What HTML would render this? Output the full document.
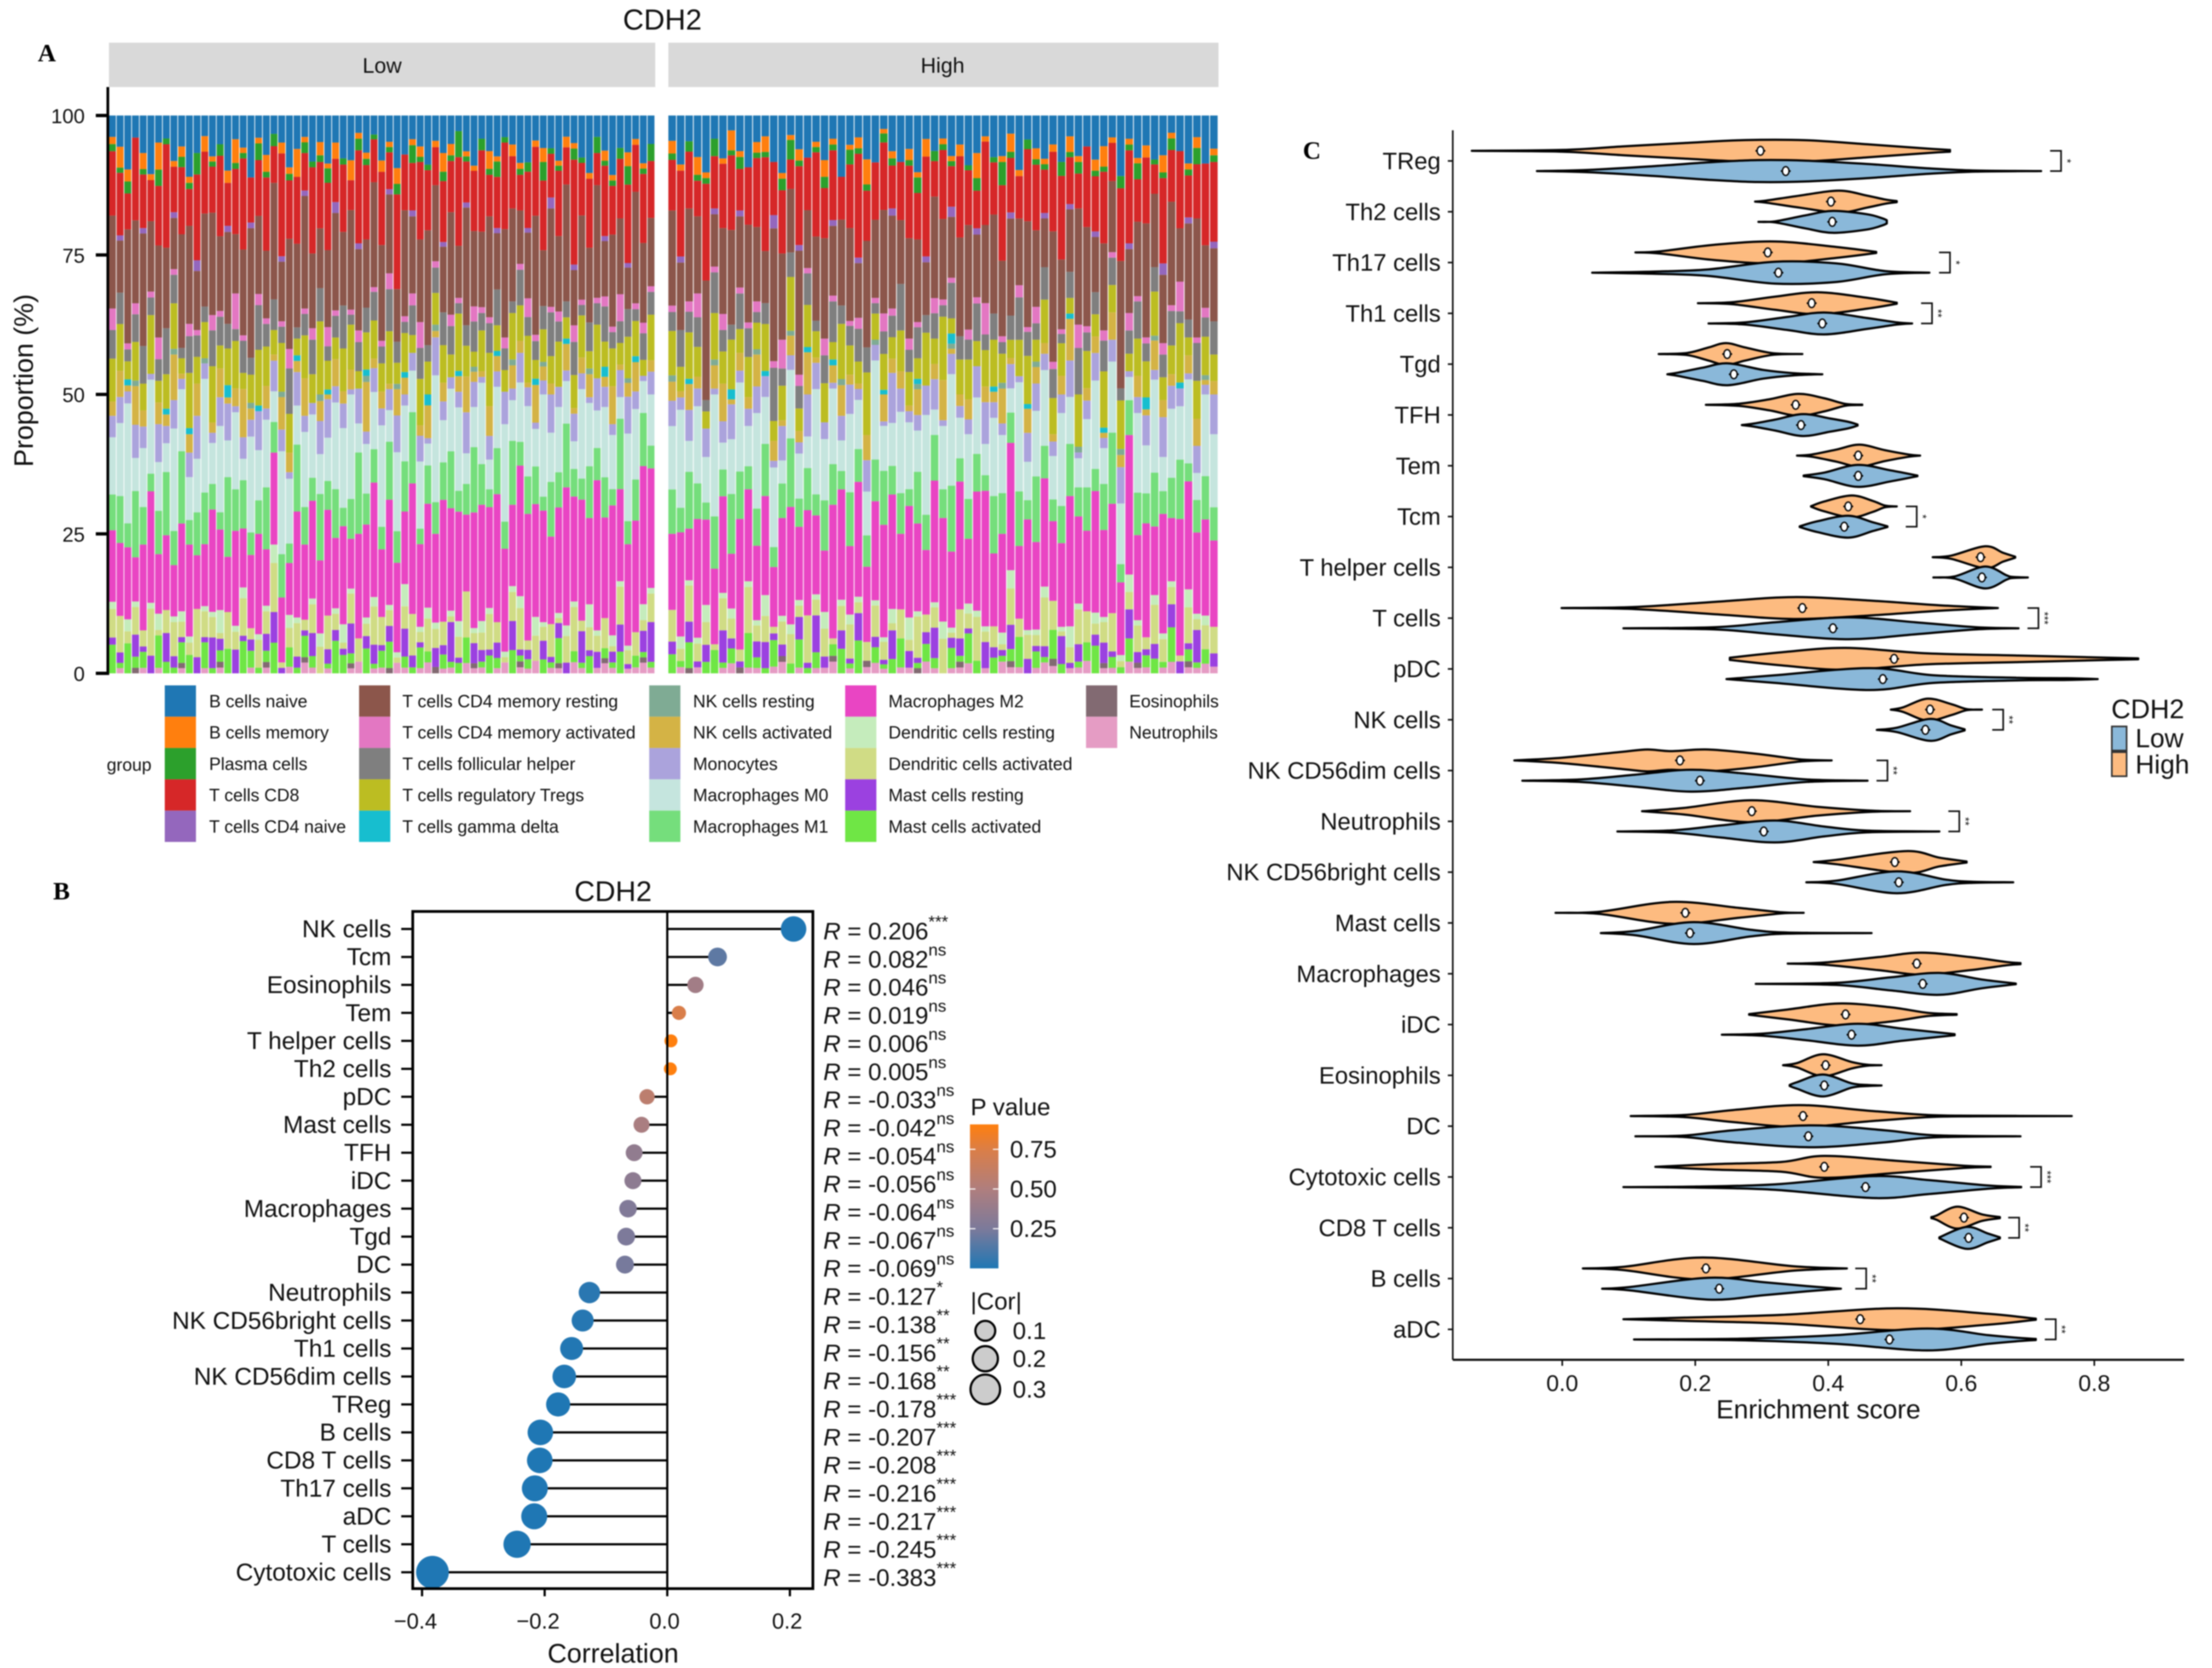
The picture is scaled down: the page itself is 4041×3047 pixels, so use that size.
<!DOCTYPE html>
<html lang="en">
<head>
<meta charset="utf-8">
<title>CDH2 immune infiltration figure</title>
<style>
html,body{margin:0;padding:0;background:#fff;}
svg{display:block;filter:blur(1px);}
text{font-family:"Liberation Sans",Arial,sans-serif;fill:#111;}
.serif{font-family:"Liberation Serif",serif;font-weight:bold;fill:#000;}
</style>
</head>
<body>
<svg id="fig" xmlns="http://www.w3.org/2000/svg" width="4041" height="3047" viewBox="0 0 4041 3047">
<rect x="0" y="0" width="4041" height="3047" fill="#fff"/>
<text class="serif" x="69" y="112" font-size="46">A</text>
<text class="serif" x="97" y="1643" font-size="46">B</text>
<text class="serif" x="2380" y="290" font-size="46">C</text>
<text x="1210" y="54" font-size="53" text-anchor="middle">CDH2</text>
<rect x="199" y="78" width="998" height="81" fill="#d9d9d9"/>
<rect x="1221" y="78" width="1015" height="81" fill="#d9d9d9" style="width:1005px"/>
<text x="698" y="133" font-size="39" text-anchor="middle">Low</text>
<text x="1722" y="133" font-size="39" text-anchor="middle">High</text>
<text transform="translate(60,695) rotate(-90)" font-size="49" text-anchor="middle">Proportion (%)</text>
<text x="195" y="1408" font-size="32">group</text>
<text x="1120" y="1646" font-size="52" text-anchor="middle">CDH2</text>
<text x="1120" y="3037" font-size="49" text-anchor="middle">Correlation</text>
<text x="1773" y="2037" font-size="44">P value</text>
<text x="1773" y="2392" font-size="44">|Cor|</text>
<text x="3322" y="2591" font-size="48" text-anchor="middle">Enrichment score</text>
<text x="3857" y="1312" font-size="49">CDH2</text>
</svg>
<script>
// ---------- Panel A data: one array per cell type; first 71 values = Low samples, remainder = High samples ----------
const cellNames=["B cells naive","B cells memory","Plasma cells","T cells CD8","T cells CD4 naive","T cells CD4 memory resting","T cells CD4 memory activated","T cells follicular helper","T cells regulatory Tregs","T cells gamma delta","NK cells resting","NK cells activated","Monocytes","Macrophages M0","Macrophages M1","Macrophages M2","Dendritic cells resting","Dendritic cells activated","Mast cells resting","Mast cells activated","Eosinophils","Neutrophils"];
const cellColors=["#1f77b4","#ff7f0e","#2ca02c","#d62728","#9467bd","#8c564b","#e377c2","#7f7f7f","#bcbd22","#17becf","#7fab94","#d4b345","#aba3dc","#c5e5de","#75de7c","#e945c3","#c5ecbc","#d0dc85","#9b41e0","#6fe645","#826a72","#e59cc4"];
const lowSampleCount=71;
const bNaive=[3,6,9,4,7,10,5,4,8,6,10,7,4,8,5,9,4,6,11,4,7,3,5,8,6,4,8,4,10,5,7,9,3,6,4,8,5,10,7,4,6,9,4,8,5,3,7,10,4,6,8,4,5,8,10,4,7,6,9,4,5,8,10,4,7,11,6,8,4,9,5,
4,8,5,7,10,4,8,3,6,9,5,4,7,10,4,6,8,5,8,4,10,6,4,7,9,3,5,8,6,11,4,7,4,8,5,10,6,4,8,7,3,9,5,6,8,4,10,4,7,5,8,6,4,10,4,8,5,9,7,3,6,8,4,10,5,7,4,8,9,6,4,8];
const bMemory=[1,4,2,0,3,1,5,0,1,2,1,0,3,1,0,2,4,1,0,1,3,0,2,1,5,1,0,2,1,3,0,4,1,1,0,2,1,3,0,1,2,0,1,4,2,0,1,1,0,3,1,0,2,1,0,1,3,0,1,2,1,0,1,0,2,1,0,3,1,1,0,
2,1,0,3,1,0,1,4,1,0,2,3,0,1,1,2,0,1,3,1,0,1,2,4,0,1,1,0,2,1,3,0,1,1,2,0,4,1,0,1,3,1,0,2,1,1,0,3,1,0,2,4,1,0,1,1,2,0,3,1,0,1,2,0,1,3,1];
const plasmaCells=[1,1,2,0,1,0,3,1,0,2,1,4,0,1,2,0,1,1,0,3,1,2,0,1,0,2,1,1,3,0,1,0,2,1,1,0,1,2,0,3,1,1,0,2,1,5,1,0,2,1,3,1,0,1,2,0,4,1,1,0,2,1,0,3,1,1,2,4,0,1,3,
1,0,2,1,1,3,0,1,2,0,1,1,0,2,4,1,0,1,2,1,0,3,1,1,0,2,1,0,1,3,0,2,1,1,0,1,2,0,1,4,1,0,2,1,1,0,3,1,2,0,1,1,0,2,1,3,0,1,1,2,0,1,3,0,1,2,1];
const cd8Cells=[9,12,6,15,10,7,11,18,8,13,6,16,12,9,14,7,11,17,8,10,13,6,19,9,12,7,15,10,14,8,11,6,16,12,9,13,7,18,10,8,15,11,6,13,9,17,8,12,14,7,10,16,9,6,12,11,15,8,13,7,19,10,12,6,14,9,11,17,8,13,10,
8,14,11,6,17,9,12,15,7,10,13,18,8,11,6,14,10,16,9,12,7,13,19,8,11,15,6,10,13,9,17,7,12,8,14,11,6,16,10,13,9,7,15,12,8,11,18,9,6,13,10,14,7,12,16,8,11,6,15,9,13,7,10,17,12,8,14];
const cd4Naive=[0,1,0,0,1,0,0,0,1,0,0,2,0,0,0,1,0,0,1,0,0,0,1,0,0,1,0,0,0,2,0,0,1,0,0,0,1,0,0,1,0,0,0,1,0,0,1,0,0,0,1,0,0,0,1,0,0,2,0,0,1,0,0,0,1,0,0,1,0,0,0,
0,1,0,0,0,1,0,0,1,0,0,0,2,0,0,1,0,0,0,1,0,0,1,0,0,0,1,0,0,0,1,0,0,2,0,0,1,0,0,0,1,0,0,0,1,0,0,1,0,0,1,0,0,0,1,0,0,0,2,0,0,1,0,0,1,0,0];
const memResting=[13,10,19,15,21,12,17,14,9,22,16,11,18,20,13,15,10,16,23,14,12,19,11,17,15,21,13,9,16,18,12,20,14,11,22,17,15,10,19,13,16,21,12,14,18,10,23,15,13,17,11,20,16,9,14,19,12,18,15,22,10,16,13,21,11,17,14,9,19,15,12,
15,11,18,13,21,9,16,19,12,17,14,10,20,15,13,22,11,16,18,12,14,19,10,17,15,23,13,11,18,16,9,20,14,12,17,21,10,15,19,13,16,11,22,14,9,18,15,12,20,16,10,17,13,21,11,14,19,15,12,18,9,16,22,13,11,17,14];
const memActivated=[3,0,1,2,0,1,4,0,1,0,2,1,0,3,1,0,6,1,0,2,1,0,1,3,0,1,2,0,4,1,0,1,2,0,1,1,3,0,1,2,5,0,1,0,2,1,0,3,1,1,0,2,0,1,4,1,0,1,2,0,3,1,0,1,2,1,5,0,1,2,1,
1,0,2,4,0,1,3,0,1,1,2,0,1,5,0,2,1,0,3,1,0,1,2,0,1,4,1,0,2,1,0,3,1,1,0,2,1,6,0,1,0,2,1,3,0,1,1,0,4,1,0,2,1,0,3,1,1,0,2,1,5,0,1,2,0,1,3];
const tfhCells=[4,6,2,5,7,3,4,8,5,2,6,4,3,7,5,4,2,6,3,8,4,5,3,7,2,4,6,5,3,4,7,2,5,4,6,3,8,4,2,5,6,3,4,7,5,2,4,6,3,5,7,4,2,6,4,3,5,8,4,3,6,2,5,4,7,3,4,6,2,5,4,
3,6,4,5,2,7,4,3,6,5,2,4,8,3,5,4,6,2,5,7,3,4,6,4,2,5,3,8,4,6,3,5,2,7,4,4,6,3,5,2,4,7,5,3,6,4,2,5,8,3,4,6,5,2,4,7,3,5,4,6,2,3,7,4,5,3,6];
const tregCells=[6,9,3,7,5,10,4,6,8,3,9,5,7,11,4,6,8,3,5,10,7,4,9,6,3,8,5,11,6,4,7,9,3,6,8,5,10,4,7,3,9,6,5,8,4,11,6,3,7,9,5,4,8,6,10,3,7,5,9,4,6,8,3,10,5,7,4,9,6,3,8,
7,4,9,5,3,8,6,10,4,7,5,9,3,6,11,4,8,5,7,3,9,6,4,10,5,8,3,7,6,4,9,5,11,3,6,8,4,7,9,5,3,6,10,4,8,5,7,3,9,6,4,11,5,8,3,7,6,9,4,5,10,3,7,8,4];
const gammaDelta=[0,0,1,0,0,0,0,1,0,0,1,0,0,0,0,2,0,0,0,1,0,0,0,0,1,0,0,0,1,0,0,0,0,1,0,0,0,0,1,0,0,2,0,0,0,1,0,0,0,0,1,0,0,0,0,1,0,0,0,1,0,0,0,0,2,0,0,0,1,0,0,
0,0,1,0,0,0,0,2,0,0,0,1,0,0,0,0,1,0,0,1,0,0,0,0,0,1,0,0,0,1,0,0,0,2,0,0,0,0,1,0,0,0,1,0,0,0,0,1,0,0,0,1,0,0,0,0,2,0,0,0,1,0,0,0,0,1,0];
const nkResting=[0,0,0,1,0,0,0,0,1,0,0,0,1,0,0,0,0,0,1,0,0,0,1,0,0,0,0,1,0,0,0,0,0,1,0,0,0,1,0,0,0,0,1,0,0,0,0,1,0,0,0,0,1,0,0,0,1,0,0,0,0,0,1,0,0,0,0,1,0,0,0,
1,0,0,0,0,1,0,0,0,0,1,0,0,0,1,0,0,0,0,0,1,0,0,0,1,0,0,0,0,1,0,0,0,1,0,0,0,0,0,1,0,0,0,1,0,0,0,0,1,0,0,0,0,1,0,0,0,1,0,0,0,0,0,1,0,0,0];
const nkActivated=[2,5,1,7,3,0,4,2,8,1,3,6,0,2,5,1,3,9,2,0,4,1,6,3,2,7,0,3,1,5,2,4,0,8,2,3,1,5,3,0,2,6,1,4,0,3,7,2,1,5,3,0,4,2,1,6,3,2,0,5,1,3,4,0,2,7,1,3,5,0,2,
3,1,5,2,0,4,7,1,3,2,6,0,3,1,4,2,8,1,0,3,5,2,1,4,0,6,2,3,1,5,0,3,7,1,2,4,0,3,2,6,1,0,5,3,2,1,4,8,0,2,3,1,5,2,0,4,1,6,3,2,0,3,5,1,2,4,0];
const monocytes=[3,5,2,6,4,1,7,3,5,2,4,8,3,2,5,6,1,4,3,7,2,5,4,1,6,3,2,5,8,3,4,1,6,2,5,3,4,7,2,3,5,1,6,4,2,3,8,5,1,4,3,6,2,5,4,1,3,7,4,2,5,3,1,6,4,2,5,8,3,1,4,
4,2,6,3,5,1,4,7,2,3,5,4,1,6,3,2,8,5,3,1,4,6,2,5,3,1,7,4,2,3,5,6,1,4,2,3,5,8,3,2,4,1,6,5,3,2,4,7,1,3,5,2,4,6,1,3,5,2,7,4,3,1,5,2,6,4,3];
const m0Cells=[8,14,20,6,11,16,9,5,18,12,7,10,22,8,15,6,13,4,17,9,12,5,19,10,7,14,11,6,9,16,13,21,5,8,12,18,6,15,10,7,13,4,20,9,11,16,6,8,14,5,12,18,7,10,15,6,22,9,13,8,5,17,11,7,14,10,4,19,12,6,9,
10,16,6,13,8,21,5,11,15,7,18,9,12,4,14,8,6,20,11,13,5,16,9,7,19,10,6,14,12,8,17,5,11,22,7,13,9,6,15,10,4,18,8,12,14,6,20,9,5,11,16,7,13,10,4,15,8,19,6,12,9,14,5,17,11,7,13];
const m1Cells=[5,9,4,12,7,3,8,11,6,14,4,8,10,5,3,13,7,9,4,6,11,5,8,3,12,7,4,10,6,9,3,8,14,5,7,4,11,6,9,12,3,7,5,8,10,4,6,13,7,3,9,5,11,4,8,6,3,10,7,12,5,4,9,6,8,3,13,5,7,10,4,
7,4,11,6,3,9,5,12,8,4,7,10,3,6,14,5,8,4,9,7,3,11,6,5,8,12,4,7,3,10,6,9,5,13,4,8,6,3,11,7,5,9,4,12,6,3,8,10,5,7,4,9,13,3,6,8,5,11,4,7,10,3,6,9,5,12,4];
const m2Cells=[10,14,12,8,16,19,11,13,9,17,15,10,12,20,14,9,16,11,13,18,10,15,12,8,19,14,17,11,22,13,16,10,18,15,24,12,20,17,13,22,16,19,14,26,18,21,15,23,20,17,25,19,14,22,27,18,24,16,21,26,19,23,15,28,20,24,17,22,19,26,21,
12,17,10,20,15,13,18,11,22,16,14,19,9,17,24,13,20,15,11,23,18,14,21,12,19,25,16,13,20,17,11,24,18,15,22,13,19,26,14,17,21,12,23,16,20,11,18,25,15,13,22,17,20,12,24,16,19,14,21,11,23,18,15,20,13,22,17];
const dcResting=[1,0,2,1,0,1,3,0,1,2,1,0,1,1,4,0,1,2,0,1,1,3,0,2,1,0,1,2,0,1,3,1,0,1,2,0,1,1,4,0,1,2,1,0,1,3,0,1,2,1,0,1,1,2,0,3,1,0,1,2,1,0,4,1,0,2,1,1,0,3,1,
0,2,1,1,3,0,1,2,0,1,1,4,0,1,2,1,0,1,3,0,1,2,1,0,1,1,2,0,4,1,0,1,3,1,0,2,1,1,0,2,3,0,1,1,2,0,1,4,1,0,2,1,0,1,3,1,0,2,1,1,0,3,1,2,0,1,1];
const dcActivated=[4,7,2,5,3,8,1,4,6,3,2,9,5,4,1,6,3,7,2,5,4,8,1,3,6,2,5,4,7,3,1,6,4,2,8,5,3,1,4,7,2,6,3,5,1,4,9,2,3,6,4,1,5,7,2,4,3,6,1,5,8,2,4,3,6,1,7,3,4,2,5,
5,2,7,3,4,1,6,4,2,8,3,5,1,4,6,2,9,3,5,1,4,7,2,3,6,4,1,5,2,8,3,4,6,1,5,3,7,2,4,1,6,3,5,2,9,4,1,3,6,5,2,4,7,1,3,5,2,8,4,3,1,6,2,5,4,7,3];
const mastResting=[1,2,0,4,1,3,0,5,2,1,0,3,1,6,2,0,4,1,2,0,3,5,1,0,2,1,4,0,3,2,1,6,0,2,4,1,3,0,5,2,1,0,3,2,7,1,0,4,2,1,3,0,5,1,2,0,4,1,3,2,0,6,1,3,0,2,5,1,0,4,7,
2,0,4,1,3,0,6,2,1,0,3,5,1,2,0,4,1,7,2,0,3,1,5,0,2,1,4,0,3,1,2,6,0,2,3,1,0,5,2,1,4,0,3,1,2,0,6,1,3,0,2,4,1,0,5,2,1,3,0,4,2,1,6,0,2,3,1];
const mastActivated=[4,1,5,2,3,0,6,2,1,4,3,0,5,1,2,4,0,6,3,1,2,5,0,3,1,4,2,0,1,6,3,2,0,4,1,3,5,0,2,1,4,2,0,3,1,2,5,0,1,3,2,0,4,1,2,0,3,1,5,0,2,1,3,0,2,1,4,0,2,1,1,
3,1,5,0,2,4,1,3,0,6,2,1,4,0,2,5,1,3,0,2,4,1,6,0,3,1,2,5,0,1,3,2,0,4,1,6,2,0,3,1,2,5,0,3,1,4,2,0,1,3,5,0,2,1,4,0,2,3,1,6,0,2,1,3,0,4,1];
const eosinophils=[0,0,0,1,0,0,0,0,0,1,0,0,0,0,1,0,0,0,0,0,1,0,0,0,0,1,0,0,0,0,0,1,0,0,0,0,1,0,0,0,0,0,1,0,0,0,0,1,0,0,0,0,0,1,0,0,0,0,1,0,0,0,0,0,1,0,0,0,0,1,0,
0,0,1,0,0,0,0,0,1,0,0,0,0,1,0,0,0,0,0,1,0,0,0,1,0,0,0,0,0,1,0,0,0,0,1,0,0,0,0,0,1,0,0,0,0,1,0,0,0,0,0,1,0,0,0,1,0,0,0,0,0,1,0,0,0,0,1];
const neutrophils=[0,1,0,0,1,0,1,0,0,1,0,0,1,0,1,0,0,0,1,0,1,0,0,1,0,2,1,0,1,0,0,1,2,0,1,1,0,2,1,0,1,2,0,1,1,0,2,1,1,0,1,2,0,1,1,2,0,1,1,0,2,1,0,1,2,1,0,1,1,2,1,
0,1,0,1,0,0,1,2,0,1,1,0,1,2,0,1,0,1,1,2,0,1,0,1,2,1,0,1,1,0,2,1,0,1,1,2,0,1,0,2,1,1,0,1,2,1,0,1,1,2,0,1,1,0,2,1,1,0,1,2,0,1,1,2,1,0,1];
const cellSeries=[bNaive,bMemory,plasmaCells,cd8Cells,cd4Naive,memResting,memActivated,tfhCells,tregCells,gammaDelta,nkResting,nkActivated,monocytes,m0Cells,m1Cells,m2Cells,dcResting,dcActivated,mastResting,mastActivated,eosinophils,neutrophils];
const proportionTicks=[0,25,50,75,100];

// ---------- Panel B data ----------
const corCategories=["NK cells","Tcm","Eosinophils","Tem","T helper cells","Th2 cells","pDC","Mast cells","TFH","iDC","Macrophages","Tgd","DC","Neutrophils","NK CD56bright cells","Th1 cells","NK CD56dim cells","TReg","B cells","CD8 T cells","Th17 cells","aDC","T cells","Cytotoxic cells"];
const corValues=[0.206,0.082,0.046,0.019,0.006,0.005,-0.033,-0.042,-0.054,-0.056,-0.064,-0.067,-0.069,-0.127,-0.138,-0.156,-0.168,-0.178,-0.207,-0.208,-0.216,-0.217,-0.245,-0.383];
const corPValues=[0.0005,0.17,0.44,0.75,0.92,0.93,0.58,0.48,0.36,0.34,0.28,0.26,0.24,0.03,0.02,0.008,0.005,0.0008,0.0005,0.0004,0.0003,0.0003,0.0001,0.0001];
const corSignif=["***","ns","ns","ns","ns","ns","ns","ns","ns","ns","ns","ns","ns","*","**","**","**","***","***","***","***","***","***","***"];
const corTicks=[-0.4,-0.2,0,0.2];
const pValueTicks=[0.75,0.5,0.25];
const sizeLegendValues=[0.1,0.2,0.3];

// ---------- Panel C data: [score, relative density] outline points for each violin ----------
const violinCategories=["TReg","Th2 cells","Th17 cells","Th1 cells","Tgd","TFH","Tem","Tcm","T helper cells","T cells","pDC","NK cells","NK CD56dim cells","Neutrophils","NK CD56bright cells","Mast cells","Macrophages","iDC","Eosinophils","DC","Cytotoxic cells","CD8 T cells","B cells","aDC"];
const highShapes=[
[[-.136,0],[0,.08],[.09,.4],[.18,.7],[.275,.98],[.366,.97],[.458,.6],[.55,.2],[.583,.08]],
[[.29,0],[.307,.1],[.357,.55],[.416,1],[.458,.55],[.485,.2],[.503,.05]],
[[.11,0],[.147,.1],[.229,.7],[.32,1],[.412,.5],[.472,.05]],
[[.204,0],[.257,.1],[.32,.6],[.384,1],[.458,.5],[.503,.05]],
[[.145,0],[.188,.1],[.22,.6],[.246,1],[.275,.6],[.316,.08],[.361,0]],
[[.216,0],[.266,.1],[.311,.5],[.355,1],[.394,.6],[.426,.08],[.451,.02]],
[[.353,0],[.375,.1],[.412,.55],[.447,1],[.485,.5],[.521,.1],[.538,0]],
[[.374,.02],[.394,.45],[.435,1],[.467,.5],[.485,.08],[.503,0]],
[[.557,0],[.585,.15],[.636,1],[.663,.4],[.681,.05]],
[[-.001,0],[.11,.1],[.238,.6],[.348,1],[.458,.7],[.567,.25],[.655,0]],
[[.252,.1],[.33,.6],[.426,1],[.549,.5],[.686,.3],[.823,.1],[.866,.04]],
[[.494,0],[.512,.2],[.549,1],[.585,.5],[.608,.05],[.631,0]],
[[-.072,0],[0,.25],[.092,.8],[.128,1],[.164,.85],[.219,1],[.293,.6],[.357,.1],[.405,0]],
[[.12,0],[.183,.3],[.284,1],[.384,.4],[.467,.05],[.523,0]],
[[.378,0],[.412,.2],[.517,1],[.567,.4],[.608,.05]],
[[-.01,0],[.056,.1],[.165,1],[.266,.45],[.33,.05],[.363,0]],
[[.339,0],[.394,.1],[.476,.6],[.54,1],[.613,.6],[.668,.15],[.689,.05]],
[[.281,.03],[.339,.45],[.416,1],[.494,.65],[.549,.15],[.593,.03]],
[[.332,0],[.353,.2],[.392,1],[.435,.3],[.458,.05],[.48,0]],
[[.103,0],[.184,.1],[.257,.55],[.357,1],[.458,.5],[.549,.1],[.622,.03],[.766,0]],
[[.14,0],[.229,.25],[.33,.45],[.394,1],[.503,.55],[.604,.1],[.644,.02]],
[[.555,.05],[.563,.2],[.594,1],[.631,.3],[.658,.05]],
[[.031,0],[.092,.15],[.211,1],[.348,.2],[.428,0]],
[[.092,0],[.184,.15],[.33,.4],[.503,1],[.64,.5],[.704,.1],[.712,.05]]
];
const lowShapes=[
[[-.038,0],[.037,.1],[.138,.45],[.22,.8],[.293,1],[.366,.95],[.458,.65],[.55,.25],[.622,.05],[.72,0]],
[[.295,0],[.32,.05],[.366,.6],[.407,1],[.458,.7],[.48,.35],[.488,.15]],
[[.045,0],[.138,.1],[.22,.3],[.32,1],[.412,.85],[.485,.15],[.552,0]],
[[.22,0],[.275,.1],[.339,.6],[.394,1],[.458,.5],[.503,.1],[.526,0]],
[[.158,0],[.174,.15],[.211,.6],[.249,1],[.302,.4],[.348,.1],[.391,0]],
[[.27,0],[.289,.15],[.32,.5],[.362,1],[.403,.6],[.43,.3],[.444,.05]],
[[.363,.03],[.394,.3],[.444,1],[.494,.5],[.534,.03]],
[[.357,.03],[.384,.5],[.43,1],[.467,.4],[.489,.03]],
[[.558,0],[.59,.1],[.636,1],[.668,.2],[.677,.05],[.7,0]],
[[.092,0],[.229,.1],[.32,.55],[.43,1],[.531,.55],[.622,.1],[.686,0]],
[[.247,0],[.32,.35],[.462,1],[.558,.35],[.686,.12],[.759,.08],[.805,0]],
[[.473,0],[.503,.2],[.553,1],[.585,.4],[.605,.05]],
[[-.06,0],[.028,.12],[.11,.55],[.193,1],[.275,.65],[.366,.12],[.459,0]],
[[.083,0],[.165,.1],[.238,.55],[.32,1],[.394,.45],[.458,.08],[.567,0]],
[[.367,0],[.412,.15],[.503,1],[.576,.25],[.617,.05],[.678,0]],
[[.058,0],[.11,.2],[.197,1],[.284,.3],[.339,.05],[.465,0]],
[[.291,0],[.412,.1],[.494,.6],[.567,1],[.631,.4],[.682,.03]],
[[.24,0],[.302,.1],[.366,.5],[.444,1],[.512,.55],[.59,.05]],
[[.342,.05],[.353,.3],[.392,1],[.435,.2],[.458,.05],[.48,0]],
[[.11,0],[.184,.07],[.257,.55],[.375,1],[.485,.55],[.558,.1],[.689,0]],
[[.092,0],[.202,.05],[.32,.25],[.467,1],[.549,.65],[.64,.15],[.69,.02]],
[[.567,.05],[.608,1],[.64,.4],[.658,.05]],
[[.06,0],[.101,.15],[.22,1],[.302,.6],[.366,.25],[.419,0]],
[[.108,0],[.275,.08],[.412,.4],[.549,1],[.64,.4],[.686,.15],[.712,.05]]
];
const highMeans=[.298,.404,.309,.375,.248,.351,.445,.43,.629,.361,.499,.553,.177,.285,.5,.185,.533,.426,.396,.362,.394,.604,.216,.448];
const lowMeans=[.336,.406,.325,.391,.258,.359,.445,.424,.631,.407,.482,.546,.207,.303,.506,.192,.542,.435,.394,.37,.456,.611,.236,.492];
const bracketCategories=["TReg","Th17 cells","Th1 cells","Tcm","T cells","NK cells","NK CD56dim cells","Neutrophils","Cytotoxic cells","CD8 T cells","B cells","aDC"];
const bracketScores=[.75,.583,.556,.533,.716,.663,.489,.597,.72,.687,.457,.742];
const bracketLabels=["*","*","**","*","***","**","**","**","***","**","**","**"];
const enrichmentTicks=[0,0.2,0.4,0.6,0.8];

// ---------- Helpers ----------
const SVGNS="http://www.w3.org/2000/svg";
const fig=document.getElementById("fig");
function mk(tag,attrs,text){
  const node=document.createElementNS(SVGNS,tag);
  for(const k in attrs){node.setAttribute(k,attrs[k]);}
  if(text!==undefined){node.textContent=text;}
  fig.appendChild(node);
  return node;
}

// ---------- Panel A ----------
const yA=v=>1230-v*10.19;
const sampleTotal=Math.min.apply(null,cellSeries.map(function(a){return a.length;}));
const facets=[[0,lowSampleCount,199,1197],[lowSampleCount,sampleTotal,1221,2226]];
facets.forEach(function(f,fi){
  const n=f[1]-f[0];
  const step=(f[3]-f[2])/n;
  for(let s=f[0];s<f[1];s++){
    let total=0;
    cellSeries.forEach(function(arr){total+=arr[s]||0;});
    let top=100;
    cellSeries.forEach(function(arr,c){
      const v=(arr[s]||0)/total*100;
      if(v<=0){return;}
      const el=mk("rect",{x:f[2]+(s-f[0])*step,y:yA(top),width:step*0.9,height:yA(top-v)-yA(top),fill:cellColors[c]});
      
      
      top-=v;
    });
  }
});
const axisA=mk("line",{x1:197,y1:159,x2:197,y2:1233,stroke:"#000","stroke-width":5});


proportionTicks.forEach(function(t){
  const tick=mk("line",{x1:175,x2:197,y1:yA(t),y2:yA(t),stroke:"#000","stroke-width":6});
  
  
  const lab=mk("text",{x:155,y:yA(t)+14,"font-size":37,"text-anchor":"end"},String(t));
  
  
});
const legendColumns=[[301,382],[656,735],[1186,1266],[1544,1623],[1984,2063]];
cellNames.forEach(function(name,i){
  const col=i<20?Math.floor(i/5):4;
  const row=i<20?i%5:i-20;
  const y=1252+row*57.2;
  const key=mk("rect",{x:legendColumns[col][0],y:y,width:57,height:57.2,fill:cellColors[i]});
  
  
  const lab=mk("text",{x:legendColumns[col][1],y:y+40,"font-size":32},name);
  
  
});

// ---------- Panel B ----------
const xB=v=>1219+v*1120;
const yB=i=>1697+i*51.09;
const rB=c=>Math.sqrt(130+2000*Math.abs(c));
const pStops=[[0,[31,119,180]],[.25,[123,122,155]],[.5,[174,126,127]],[.75,[217,126,74]],[.92,[255,127,14]]];
function pColor(p){
  for(let i=1;i<pStops.length;i++){
    if(p<=pStops[i][0]){
      const a=pStops[i-1],b=pStops[i];
      const t=(p-a[0])/(b[0]-a[0]);
      return "rgb("+a[1].map(function(c,k){return Math.round(c+(b[1][k]-c)*t);}).join(",")+")";
    }
  }
  return "rgb(255,127,14)";
}
corCategories.forEach(function(name,i){
  const tick=mk("line",{x1:733,x2:754,y1:yB(i),y2:yB(i),stroke:"#000","stroke-width":4});
  
  
  const lab=mk("text",{x:715,y:yB(i)+15,"font-size":44.5,"text-anchor":"end"},name);
  
  
  const stem=mk("line",{x1:xB(0),x2:xB(corValues[i]),y1:yB(i),y2:yB(i),stroke:"#000","stroke-width":4});
  
  
  const dot=mk("circle",{cx:xB(corValues[i]),cy:yB(i),r:rB(corValues[i]),fill:pColor(corPValues[i])});
  
  
  const t=mk("text",{x:1504,y:1716+i*51.35,"font-size":44});
  
  
  const r=document.createElementNS(SVGNS,"tspan");
  r.setAttribute("font-style","italic");
  r.textContent="R";
  t.appendChild(r);
  const v=document.createElementNS(SVGNS,"tspan");
  v.textContent=" = "+corValues[i].toFixed(3);
  t.appendChild(v);
  const s=document.createElementNS(SVGNS,"tspan");
  s.setAttribute("dy","-22");
  s.setAttribute("font-size","31");
  s.textContent=corSignif[i];
  t.appendChild(s);
});
const zeroLine=mk("line",{x1:xB(0),x2:xB(0),y1:1665,y2:2916,stroke:"#000","stroke-width":4});


const frameB=mk("rect",{x:754,y:1665,width:731,height:1237,fill:"none",stroke:"#000","stroke-width":5});


corTicks.forEach(function(t){
  const tick=mk("line",{x1:xB(t),x2:xB(t),y1:2902,y2:2916,stroke:"#000","stroke-width":4});
  
  
  const txt=t<0?"\u2212"+Math.abs(t).toFixed(1):t.toFixed(1);
  const lab=mk("text",{x:xB(t)-(t<0?12:5),y:2975,"font-size":40,"text-anchor":"middle"},txt);
  
  
});
const defs=document.createElementNS(SVGNS,"defs");
const grad=document.createElementNS(SVGNS,"linearGradient");
grad.setAttribute("id","pgrad");
grad.setAttribute("x1","0");grad.setAttribute("y1","1");grad.setAttribute("x2","0");grad.setAttribute("y2","0");
pStops.forEach(function(st){
  const stop=document.createElementNS(SVGNS,"stop");
  stop.setAttribute("offset",st[0]/.92);
  stop.setAttribute("stop-color","rgb("+st[1].join(",")+")");
  grad.appendChild(stop);
});
defs.appendChild(grad);
fig.appendChild(defs);
const colorbar=mk("rect",{x:1772,y:2054,width:52,height:263,fill:"url(#pgrad)"});


pValueTicks.forEach(function(p){
  const y=2317-p*290;
  const t1=mk("line",{x1:1772,x2:1782,y1:y,y2:y,stroke:"#fff","stroke-width":2});
  
  
  const t2=mk("line",{x1:1814,x2:1824,y1:y,y2:y,stroke:"#fff","stroke-width":2});
  
  
  const lab=mk("text",{x:1845,y:y+15,"font-size":44},p.toFixed(2));
  
  
});
const sizeLegendY=[2431,2482,2538];
sizeLegendValues.forEach(function(v,i){
  const c=mk("circle",{cx:1800,cy:sizeLegendY[i],r:rB(v),fill:"#ccc",stroke:"#000","stroke-width":4});
  
  
  const lab=mk("text",{x:1850,y:sizeLegendY[i]+15,"font-size":44},v.toFixed(1));
  
  
});

// ---------- Panel C ----------
const xC=v=>2854+v*1215;
const yC=i=>294+i*92.8;
const violinHalf=20;
function smoothSide(pts){
  let d="";
  for(let i=0;i<pts.length-1;i++){
    const p0=pts[Math.max(0,i-1)],p1=pts[i],p2=pts[i+1],p3=pts[Math.min(pts.length-1,i+2)];
    const c1=[p1[0]+(p2[0]-p0[0])/6,p1[1]+(p2[1]-p0[1])/6];
    const c2=[p2[0]-(p3[0]-p1[0])/6,p2[1]-(p3[1]-p1[1])/6];
    d+="C"+c1[0].toFixed(1)+" "+c1[1].toFixed(1)+" "+c2[0].toFixed(1)+" "+c2[1].toFixed(1)+" "+p2[0].toFixed(1)+" "+p2[1].toFixed(1);
  }
  return d;
}
function violinPath(shape,cy){
  const top=shape.map(function(p){return [xC(p[0]),cy-p[1]*violinHalf];});
  const bottom=shape.map(function(p){return [xC(p[0]),cy+p[1]*violinHalf];}).reverse();
  return "M"+top[0][0].toFixed(1)+" "+top[0][1].toFixed(1)+smoothSide(top)+"L"+bottom[0][0].toFixed(1)+" "+bottom[0][1].toFixed(1)+smoothSide(bottom)+"Z";
}
function drawMean(v,cy){
  const bar=mk("line",{x1:xC(v)-9,x2:xC(v)+9,y1:cy,y2:cy,stroke:"#000","stroke-width":3});
  
  
  const dot=mk("ellipse",{cx:xC(v),cy:cy,rx:6,ry:8,fill:"#fff",stroke:"#000","stroke-width":2.5});
  
  
}
violinCategories.forEach(function(name,i){
  const cy=yC(i);
  const tick=mk("line",{x1:2645,x2:2654,y1:cy,y2:cy,stroke:"#111","stroke-width":3});
  
  
  const lab=mk("text",{x:2632,y:cy+15,"font-size":43.5,"text-anchor":"end"},name);
  
  
  const high=mk("path",{d:violinPath(highShapes[i],cy-18.5),fill:"#fdbb80",stroke:"#000","stroke-width":4,"stroke-linejoin":"round"});
  
  
  const low=mk("path",{d:violinPath(lowShapes[i],cy+18.5),fill:"#8ab8d9",stroke:"#000","stroke-width":4,"stroke-linejoin":"round"});
  
  
  drawMean(highMeans[i],cy-18.5);
  drawMean(lowMeans[i],cy+18.5);
});
bracketCategories.forEach(function(name,b){
  const cy=yC(violinCategories.indexOf(name));
  const x=xC(bracketScores[b]);
  const br=mk("path",{d:"M"+(x-20)+" "+(cy-18.5)+"H"+x+"V"+(cy+18.5)+"H"+(x-20),fill:"none",stroke:"#111","stroke-width":3});
  
  
  const st=mk("text",{transform:"translate("+(x+4)+","+cy+") rotate(90)","font-size":20,"text-anchor":"middle"},bracketLabels[b]);
  
  
});
const axisCY=mk("line",{x1:2654,x2:2654,y1:238,y2:2484,stroke:"#111","stroke-width":3});


const axisCX=mk("line",{x1:2654,x2:3990,y1:2484,y2:2484,stroke:"#111","stroke-width":4});


enrichmentTicks.forEach(function(t){
  const tick=mk("line",{x1:xC(t),x2:xC(t),y1:2484,y2:2495,stroke:"#111","stroke-width":3});
  
  
  const lab=mk("text",{x:xC(t),y:2541,"font-size":42,"text-anchor":"middle"},t.toFixed(1));
  
  
});
const keyLow=mk("rect",{x:3858,y:1327,width:27,height:44,fill:"#8ab8d9",stroke:"#333","stroke-width":3});


const keyHigh=mk("rect",{x:3858,y:1374,width:27,height:44,fill:"#fdbb80",stroke:"#333","stroke-width":3});


const labLow=mk("text",{x:3901,y:1365,"font-size":48},"Low");


const labHigh=mk("text",{x:3901,y:1413,"font-size":48},"High");


</script>
</body>
</html>
